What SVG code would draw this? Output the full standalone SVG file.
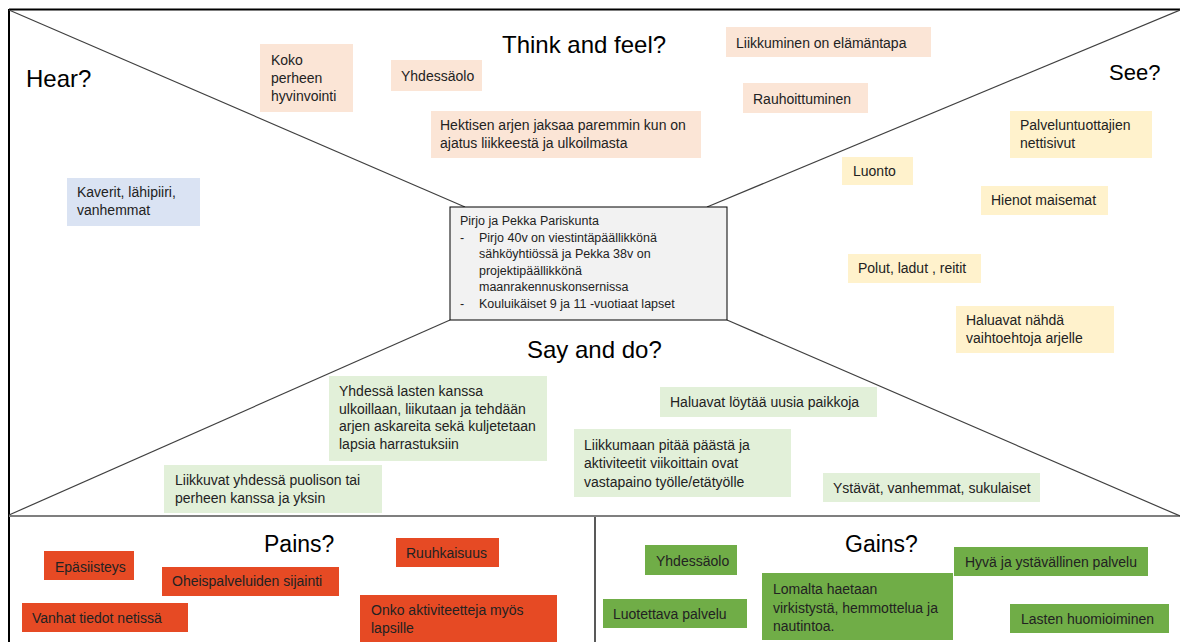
<svg xmlns="http://www.w3.org/2000/svg" width="1180" height="642" viewBox="0 0 1180 642">
<defs>
<style>
.h{font-family:"Liberation Sans",Arial,sans-serif;font-size:24px;fill:#000}
.t{font-family:"Liberation Sans",Arial,sans-serif;font-size:14px;fill:#222}
.c{font-family:"Liberation Sans",Arial,sans-serif;font-size:12.5px;fill:#222}
.pk{fill:#fbe5d6}
.yl{fill:#fff2cc}
.bl{fill:#dae3f3}
.gl{fill:#e2f0d9}
.rd{fill:#e64a24}
.gn{fill:#70ad47}
.dg{stroke:#404040;stroke-width:1.2;fill:none}
</style>
</defs>
<rect width="1180" height="642" fill="#fff"/>
<g id="frame" fill="none">
<line x1="9" y1="9.5" x2="1180" y2="9.5" stroke="#000" stroke-width="2"/>
<line x1="9" y1="9" x2="9" y2="642" stroke="#000" stroke-width="2"/>
<line x1="9" y1="516" x2="1180" y2="516" stroke="#7f7f7f" stroke-width="2"/>
<line x1="595" y1="517" x2="595" y2="642" stroke="#222" stroke-width="1.5"/>
</g>
<g id="connectors">
<line class="dg" x1="9" y1="10" x2="465" y2="207"/>
<line class="dg" x1="1180" y1="10" x2="707" y2="207"/>
<line class="dg" x1="450" y1="320" x2="9" y2="515"/>
<line class="dg" x1="727" y1="320" x2="1180" y2="516"/>
</g>
<g id="headings">
<text class="h" x="26" y="87">Hear?</text>
<text class="h" x="502" y="53">Think and feel?</text>
<text class="h" x="1109" y="80" style="font-size:22px">See?</text>
<text class="h" x="527" y="358">Say and do?</text>
<text class="h" x="264" y="552" style="font-size:23px">Pains?</text>
<text class="h" x="845" y="552" style="font-size:23px">Gains?</text>
</g>
<g id="persona">
<rect x="450" y="207" width="277" height="113" fill="#f2f2f2" stroke="#000" stroke-width="1"/>
<text class="c" x="460" y="225">Pirjo ja Pekka Pariskunta</text>
<text class="c" x="460" y="241.5">-</text>
<text class="c" x="479" y="241.5">Pirjo 40v on viestintäpäällikkönä</text>
<text class="c" x="479" y="258">sähköyhtiössä ja Pekka 38v on</text>
<text class="c" x="479" y="274.5">projektipäällikkönä</text>
<text class="c" x="479" y="291">maanrakennuskonsernissa</text>
<text class="c" x="460" y="307.5">-</text>
<text class="c" x="479" y="307.5">Kouluikäiset 9 ja 11 -vuotiaat lapset</text>
</g>
<g id="tf1"><rect class="pk" x="260" y="44" width="93" height="68"/><text class="t" x="271" y="65">Koko</text><text class="t" x="271" y="83">perheen</text><text class="t" x="271" y="101">hyvinvointi</text></g>
<g id="tf2"><rect class="pk" x="391" y="60" width="91" height="31"/><text class="t" x="401" y="81">Yhdessäolo</text></g>
<g id="tf3"><rect class="pk" x="431" y="111" width="270" height="47"/><text class="t" x="440" y="130">Hektisen arjen jaksaa paremmin kun on</text><text class="t" x="440" y="148">ajatus liikkeestä ja ulkoilmasta</text></g>
<g id="tf4"><rect class="pk" x="726" y="27" width="205" height="30"/><text class="t" x="736" y="47.5">Liikkuminen on elämäntapa</text></g>
<g id="tf5"><rect class="pk" x="743" y="83" width="125" height="30"/><text class="t" x="753" y="104">Rauhoittuminen</text></g>
<g id="see1"><rect class="yl" x="1010" y="111" width="142" height="47"/><text class="t" x="1020" y="130">Palveluntuottajien</text><text class="t" x="1020" y="148">nettisivut</text></g>
<g id="see2"><rect class="yl" x="842" y="157" width="71" height="28"/><text class="t" x="853" y="176">Luonto</text></g>
<g id="see3"><rect class="yl" x="981" y="186" width="127" height="29"/><text class="t" x="991" y="205">Hienot maisemat</text></g>
<g id="see4"><rect class="yl" x="848" y="254" width="133" height="29"/><text class="t" x="858" y="273">Polut, ladut , reitit</text></g>
<g id="see5"><rect class="yl" x="956" y="306" width="158" height="47"/><text class="t" x="966" y="325">Haluavat nähdä</text><text class="t" x="966" y="343">vaihtoehtoja arjelle</text></g>
<g id="hear1"><rect class="bl" x="67" y="178" width="133" height="48"/><text class="t" x="77" y="197">Kaverit, lähipiiri,</text><text class="t" x="77" y="215">vanhemmat</text></g>
<g id="sd1"><rect class="gl" x="329" y="376" width="218" height="85"/><text class="t" x="339" y="396">Yhdessä lasten kanssa</text><text class="t" x="339" y="413.5">ulkoillaan, liikutaan ja tehdään</text><text class="t" x="339" y="431">arjen askareita sekä kuljetetaan</text><text class="t" x="339" y="448.5">lapsia harrastuksiin</text></g>
<g id="sd2"><rect class="gl" x="164" y="465" width="218" height="48"/><text class="t" x="175" y="485">Liikkuvat yhdessä puolison tai</text><text class="t" x="175" y="503">perheen kanssa ja yksin</text></g>
<g id="sd3"><rect class="gl" x="660" y="387" width="217" height="30"/><text class="t" x="670" y="407">Haluavat löytää uusia paikkoja</text></g>
<g id="sd4"><rect class="gl" x="574" y="429" width="217" height="68"/><text class="t" x="584" y="450">Liikkumaan pitää päästä ja</text><text class="t" x="584" y="468">aktiviteetit viikoittain ovat</text><text class="t" x="584" y="486.5">vastapaino työlle/etätyölle</text></g>
<g id="sd5"><rect class="gl" x="823" y="473" width="217" height="29"/><text class="t" x="833" y="493">Ystävät, vanhemmat, sukulaiset</text></g>
<g id="pain1"><rect class="rd" x="44" y="551" width="90" height="29"/><text class="t" x="55" y="571.5">Epäsiisteys</text></g>
<g id="pain2"><rect class="rd" x="162" y="567" width="177" height="29"/><text class="t" x="172" y="586">Oheispalveluiden sijainti</text></g>
<g id="pain3"><rect class="rd" x="22" y="603" width="166" height="29"/><text class="t" x="32" y="622.5">Vanhat tiedot netissä</text></g>
<g id="pain4"><rect class="rd" x="396" y="538" width="103" height="29"/><text class="t" x="406" y="557.5">Ruuhkaisuus</text></g>
<g id="pain5"><rect class="rd" x="360" y="595" width="197" height="47"/><text class="t" x="371" y="615">Onko aktiviteetteja myös</text><text class="t" x="371" y="633">lapsille</text></g>
<g id="gain1"><rect class="gn" x="645" y="545" width="92" height="30"/><text class="t" x="656" y="566">Yhdessäolo</text></g>
<g id="gain2"><rect class="gn" x="603" y="599" width="144" height="29"/><text class="t" x="613" y="619">Luotettava palvelu</text></g>
<g id="gain3"><rect class="gn" x="762" y="573" width="191" height="67"/><text class="t" x="773" y="594">Lomalta haetaan</text><text class="t" x="773" y="612.5">virkistystä, hemmottelua ja</text><text class="t" x="773" y="631">nautintoa.</text></g>
<g id="gain4"><rect class="gn" x="954" y="547" width="194" height="29"/><text class="t" x="965" y="567">Hyvä ja ystävällinen palvelu</text></g>
<g id="gain5"><rect class="gn" x="1010" y="604" width="159" height="29"/><text class="t" x="1021" y="624">Lasten huomioiminen</text></g>
</svg>
